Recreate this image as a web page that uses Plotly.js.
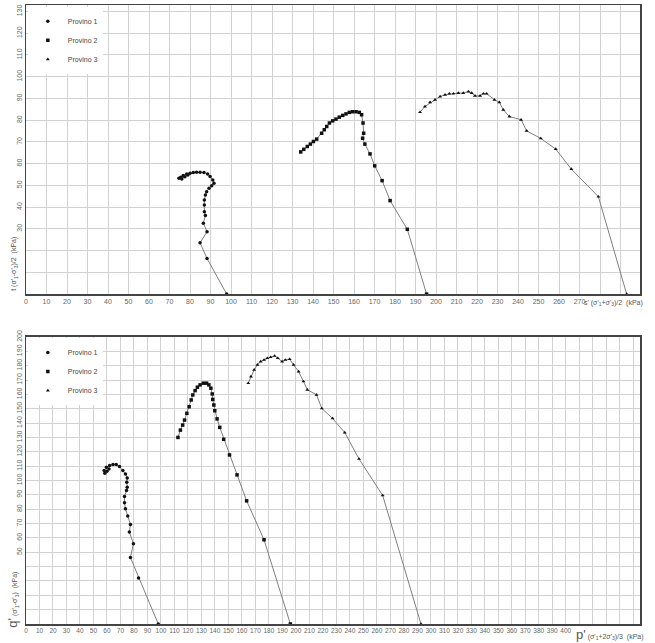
<!DOCTYPE html>
<html><head><meta charset="utf-8">
<script src="https://cdn.plot.ly/plotly-3.0.1.min.js"></script>
<style>html,body{margin:0;padding:0;background:#fff}#c{width:655px;height:643px}</style>
</head><body><div id="c"></div>
<script>
// Top plot: s' vs t
const s1 = [97.9, 88.3, 84.9, 88.3, 86.5, 87.5, 87.0, 87.0, 87.0, 87.5, 88.1, 89.3, 90.6, 91.7, 91.1, 89.8, 88.6, 86.8, 84.9, 83.2, 81.6, 80.0, 78.4, 76.7, 75.5, 74.6, 76.0, 77.5, 79.0];
const t1 = [0, 16.4, 23.6, 28.7, 32.6, 36.1, 37.9, 41.0, 43.3, 45.6, 47.1, 48.7, 49.8, 51.0, 52.5, 54.1, 55.3, 55.9, 56.0, 56.0, 55.9, 55.6, 55.3, 54.5, 53.8, 53.3, 53.0, 54.0, 54.8];
const s2 = [195.4, 186.0, 177.6, 173.7, 170.1, 167.8, 165.3, 164.2, 164.7, 164.4, 163.7, 162.6, 161.0, 159.3, 157.7, 156.1, 154.5, 152.8, 151.2, 149.6, 148.0, 146.7, 145.5, 144.2, 141.8, 140.2, 138.7, 137.2, 135.5, 134.0];
const t2 = [0, 29.8, 43.0, 52.2, 59.0, 64.5, 69.0, 71.7, 74.0, 78.7, 82.5, 83.6, 83.9, 83.9, 83.6, 82.9, 82.2, 81.4, 80.5, 79.7, 78.7, 77.1, 75.6, 74.0, 71.3, 70.2, 69.0, 67.9, 66.6, 65.4];
const s3 = [293.0, 279.2, 266.0, 258.4, 251.1, 244.2, 241.5, 235.8, 232.8, 230.9, 228.5, 224.7, 223.1, 221.5, 219.0, 217.4, 215.8, 213.3, 210.9, 208.5, 206.5, 204.4, 202.0, 199.5, 197.1, 194.6, 192.2];
const t3 = [0, 44.8, 57.5, 66.7, 71.6, 75.1, 80.2, 81.7, 84.8, 88.2, 89.4, 92.2, 92.2, 91.2, 91.2, 92.5, 93.2, 92.5, 92.5, 92.2, 92.2, 91.7, 90.9, 89.4, 88.2, 86.3, 83.7];
// Bottom plot: p' vs q'
const p1 = [98.0, 83.4, 77.4, 79.6, 76.6, 77.4, 75.4, 73.7, 73.0, 73.0, 74.5, 75.0, 74.7, 75.0, 73.7, 71.8, 69.3, 66.9, 64.5, 62.0, 59.6, 57.9, 58.4, 60.0, 61.5];
const q1 = [0, 32.0, 46.3, 56.0, 64.1, 69.4, 75.2, 80.3, 84.5, 88.9, 93.0, 95.3, 98.8, 101.8, 104.6, 106.9, 109.7, 111.1, 111.1, 110.4, 109.2, 106.9, 105.1, 106.5, 108.0];
const p2 = [195.9, 176.4, 163.5, 156.4, 150.8, 146.5, 143.6, 141.6, 139.9, 139.2, 138.4, 138.0, 137.0, 135.5, 133.8, 131.4, 129.0, 127.0, 125.3, 123.6, 122.4, 120.9, 119.2, 117.5, 116.1, 114.4, 112.6];
const q2 = [0, 58.7, 85.8, 103.9, 117.8, 128.7, 137.0, 142.9, 148.6, 152.6, 156.5, 160.3, 164.3, 166.6, 167.8, 167.8, 166.6, 165.0, 162.6, 159.6, 156.1, 151.4, 146.8, 142.1, 138.6, 135.1, 130.0];
const p3 = [292.7, 264.3, 246.8, 236.2, 227.2, 219.2, 215.3, 208.5, 205.6, 202.0, 198.3, 195.4, 192.2, 189.8, 186.6, 184.2, 181.3, 178.8, 176.4, 173.9, 171.5, 169.1, 166.7, 164.7];
const q3 = [0, 89.6, 115.0, 133.4, 143.2, 150.2, 159.7, 163.2, 169.0, 175.9, 180.6, 184.5, 184.0, 182.9, 185.2, 186.8, 185.9, 185.2, 184.0, 182.9, 180.6, 177.1, 172.4, 167.8];

const names = ['Provino 1', 'Provino 2', 'Provino 3'];
const symbols = ['circle', 'square', 'triangle-up'];

const topX = [s1, s2, s3], topY = [t1, t2, t3];
const botX = [p1, p2, p3], botY = [q1, q2, q3];

const traces = [];
function addSet(X, Y, xa, ya, leg) {
  for (let i = 0; i < 3; i++) {
    traces.push({x: X[i], y: Y[i], type: 'scatter', mode: 'lines', xaxis: xa, yaxis: ya,
      showlegend: false, hoverinfo: 'skip', line: {color: '#7f7f7f', width: 1}});
  }
  for (let i = 0; i < 3; i++) {
    traces.push({x: X[i], y: Y[i], name: names[i], type: 'scatter', mode: 'markers', xaxis: xa, yaxis: ya,
      legend: leg, marker: {symbol: symbols[i], color: '#111', size: 3.5}});
  }
}
addSet(topX, topY, 'x', 'y', 'legend');
addSet(botX, botY, 'x2', 'y2', 'legend2');

function ticks(max, step, hideFn) {
  const v = [], t = [];
  for (let a = 0; a <= max; a += step) { v.push(a); t.push(hideFn(a) ? ' ' : String(a)); }
  return {v, t};
}
const tx1 = ticks(290, 10, a => a > 270);
const ty1 = ticks(130, 10, a => a < 30);
const tx2 = ticks(450, 10, a => a > 400);
const ty2 = ticks(200, 10, a => a < 50);

const axBase = {showgrid: true, gridcolor: '#d2d2d2', gridwidth: 1, zeroline: false,
  showline: true, mirror: true, linecolor: '#444', linewidth: 1.5, ticks: '',
  tickfont: {family: 'Liberation Sans, Arial', size: 7, color: '#666'}, tickmode: 'array'};

const legFont = {family: 'Liberation Sans, Arial', size: 7, color: '#444'};
const layout = {
  width: 655, height: 643,
  margin: {l: 26, r: 15, t: 5, b: 19},
  paper_bgcolor: '#fff', plot_bgcolor: '#fff',
  showlegend: true,
  xaxis: Object.assign({}, axBase, {domain: [0, 1], range: [0, 299.5], anchor: 'y', tickvals: tx1.v, ticktext: tx1.t, tickangle: 0}),
  yaxis: Object.assign({}, axBase, {domain: [0.533, 1], range: [0, 133], anchor: 'x', tickvals: ty1.v, ticktext: ty1.t, tickangle: -90}),
  xaxis2: Object.assign({}, axBase, {domain: [0, 1], range: [0, 455], anchor: 'y2', tickvals: tx2.v, ticktext: tx2.t, tickangle: 0,
    tickfont: {family: 'Liberation Sans Narrow, Liberation Sans, Arial', size: 6.5, color: '#666'}}),
  yaxis2: Object.assign({}, axBase, {domain: [0, 0.4637], range: [0, 200], anchor: 'x2', tickvals: ty2.v, ticktext: ty2.t, tickangle: -90}),
  legend: {x: 0.003, y: 0.997, xanchor: 'left', yanchor: 'top', bgcolor: '#fff', borderwidth: 0,
    font: legFont, itemwidth: 30},
  legend2: {x: 0.003, y: 0.462, xanchor: 'left', yanchor: 'top', bgcolor: '#fff', borderwidth: 0,
    font: legFont, itemwidth: 30},
  annotations: [
    {xref: 'paper', yref: 'paper', x: 0.905, y: 0.533, xanchor: 'left', yanchor: 'top', yshift: -3, showarrow: false,
     text: "s' (σ'<sub>1</sub>+σ'<sub>3</sub>)/2  (kPa)", font: {family: 'Liberation Sans, Arial', size: 7, color: '#555'}},
    {xref: 'paper', yref: 'paper', x: 0.893, y: 0, xanchor: 'left', yanchor: 'top', yshift: -1, showarrow: false,
     text: "<span style='font-size:13px'>p'</span> (σ'<sub>1</sub>+2σ'<sub>3</sub>)/3  (kPa)", font: {family: 'Liberation Sans, Arial', size: 7, color: '#555'}},
    {xref: 'paper', yref: 'paper', x: 0, y: 0.535, xanchor: 'right', yanchor: 'bottom', xshift: -6, showarrow: false, textangle: -90,
     text: "t (σ'<sub>1</sub>-σ'<sub>3</sub>)/2  (kPa)", font: {family: 'Liberation Sans, Arial', size: 7, color: '#555'}},
    {xref: 'paper', yref: 'paper', x: 0, y: -0.01, xanchor: 'right', yanchor: 'bottom', xshift: -4, showarrow: false, textangle: -90,
     text: "<span style='font-size:13px'>q'</span> (σ'<sub>1</sub>-σ'<sub>3</sub>)  (kPa)", font: {family: 'Liberation Sans, Arial', size: 7, color: '#555'}}
  ]
};
Plotly.newPlot('c', traces, layout, {displayModeBar: false, staticPlot: true});
</script></body></html>
